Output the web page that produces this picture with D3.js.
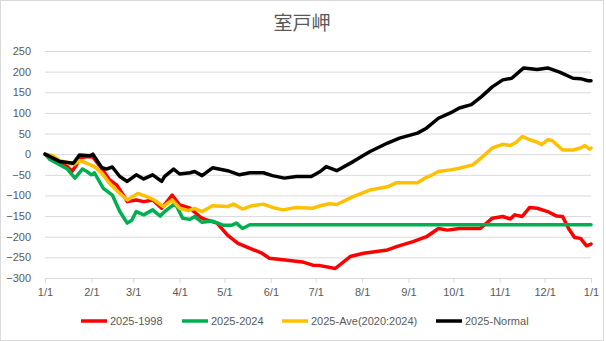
<!DOCTYPE html>
<html>
<head>
<meta charset="utf-8">
<script src="https://cdn.jsdelivr.net/npm/d3@7"></script>
<style>
  body { margin: 0; background: #fff; }
  text { font-family: "Liberation Sans", "Noto Sans", sans-serif; fill: #595959; }
</style>
</head>
<body>
<svg id="chart"></svg>
<script>
// day-of-year offsets paired with values
const red1998 = [[0,0],[5,-12],[10,-22],[15,-30],[18,-42],[21,-26],[23,-10],[28,-6],[32,-7],[37,-30],[43,-62],[48,-75],[53,-103],[55,-115],[61,-111],[66,-115],[72,-111],[78,-131],[85,-99],[90,-123],[97,-131],[104,-153],[107,-158],[115,-167],[122,-196],[129,-216],[137,-228],[145,-240],[150,-252],[162,-257],[172,-261],[179,-269],[184,-270],[194,-277],[204,-248],[213,-240],[229,-232],[235,-224],[246,-212],[255,-200],[263,-180],[269,-184],[277,-180],[291,-180],[299,-155],[306,-151],[311,-157],[314,-147],[319,-151],[324,-129],[329,-131],[336,-139],[342,-150],[346,-151],[350,-180],[354,-202],[358,-204],[362,-222],[365,-218]];
const green2024 = [[0,0],[3,-12],[10,-26],[15,-36],[20,-58],[25,-36],[28,-42],[31,-50],[33,-45],[39,-83],[45,-99],[50,-139],[55,-167],[58,-160],[61,-139],[66,-147],[72,-135],[77,-150],[80,-139],[87,-119],[92,-155],[97,-158],[100,-151],[105,-165],[112,-162],[119,-172],[125,-172],[128,-167],[132,-180],[137,-171],[365,-171]];
const yellowAve = [[0,0],[5,-3],[10,-16],[15,-20],[19,-26],[23,-16],[28,-22],[33,-30],[38,-46],[43,-70],[50,-95],[55,-111],[62,-95],[68,-103],[73,-111],[79,-127],[85,-111],[90,-131],[96,-137],[100,-131],[105,-139],[112,-125],[122,-127],[126,-121],[132,-133],[138,-125],[146,-121],[152,-129],[159,-135],[168,-129],[179,-131],[184,-125],[190,-120],[195,-122],[206,-103],[217,-87],[229,-79],[235,-69],[249,-69],[255,-56],[259,-50],[263,-42],[271,-38],[277,-34],[286,-26],[291,-11],[295,2],[299,15],[306,24],[311,21],[315,29],[319,43],[324,35],[329,29],[332,23],[336,35],[339,33],[346,10],[353,10],[358,15],[361,21],[364,12],[365,15]];
const blackNormal = [[0,0],[5,-9],[10,-18],[19,-22],[23,-2],[30,-4],[32,0],[38,-33],[41,-36],[45,-31],[50,-54],[55,-66],[61,-50],[66,-60],[72,-50],[78,-66],[80,-54],[86,-36],[90,-48],[97,-45],[100,-42],[105,-52],[112,-33],[122,-40],[130,-50],[137,-45],[146,-45],[152,-52],[160,-58],[168,-54],[178,-54],[184,-42],[188,-30],[195,-40],[206,-18],[217,6],[229,27],[237,39],[249,51],[255,63],[263,87],[271,100],[277,112],[285,120],[292,140],[299,163],[306,180],[312,184],[320,209],[329,205],[336,209],[344,199],[353,184],[358,183],[363,178],[365,178]];

const seriesNames = ["2025-1998", "2025-2024", "2025-Ave(2020:2024)", "2025-Normal"];
const seriesColors = ["#ff0000", "#00b050", "#ffc000", "#000000"];
const seriesData = [red1998, green2024, yellowAve, blackNormal];
const yTicks = [250, 200, 150, 100, 50, 0, -50, -100, -150, -200, -250, -300];
const title = "室戸岬";

const W = 606, H = 341;
const margin = { top: 51, right: 15, bottom: 63, left: 45 };
const plotW = W - margin.left - margin.right;
const plotH = H - margin.top - margin.bottom;

const svg = d3.select("#chart").attr("width", W).attr("height", H);

// chart border
svg.append("rect")
  .attr("x", 0.5).attr("y", 0.5)
  .attr("width", 603).attr("height", 340)
  .attr("fill", "#fff").attr("stroke", "#d9d9d9");

svg.append("text")
  .attr("x", 302).attr("y", 30)
  .attr("text-anchor", "middle")
  .style("font-family", "'Noto Sans CJK JP', sans-serif")
  .style("font-size", "19px")
  .text(title);

const g = svg.append("g").attr("transform", "translate(" + margin.left + "," + margin.top + ")");

const start = new Date(2025, 0, 1);
const end = new Date(2026, 0, 1);
const x = d3.scaleTime().domain([start, end]).range([0, plotW]);
const y = d3.scaleLinear().domain([-300, 250]).range([plotH, 0]);
const toDate = d => d3.timeDay.offset(start, d);

// GRIDLINES
g.append("g")
  .call(d3.axisLeft(y).tickValues(yTicks).tickSize(-plotW).tickFormat(""))
  .call(s => s.select(".domain").remove())
  .selectAll("line").attr("stroke", "#d9d9d9");

// Y LABELS
g.append("g")
  .call(d3.axisLeft(y).tickValues(yTicks).tickSize(0).tickPadding(14))
  .call(s => s.select(".domain").remove())
  .selectAll("text")
  .style("font-size", "11px")
  .style("fill", "#595959")
  .style("font-family", "'Liberation Sans', sans-serif");

// X AXIS
const xTicks = d3.timeMonth.range(start, d3.timeDay.offset(end, 1));
const xAxis = g.append("g")
  .attr("transform", "translate(0," + plotH + ")")
  .call(d3.axisBottom(x).tickValues(xTicks).tickSize(5).tickPadding(5)
    .tickFormat(d => (d.getMonth() + 1) + "/" + d.getDate()));
xAxis.select(".domain").attr("stroke", "#d9d9d9");
xAxis.selectAll("line").attr("stroke", "#d9d9d9");
xAxis.selectAll("text")
  .style("font-size", "11px")
  .style("fill", "#595959")
  .style("font-family", "'Liberation Sans', sans-serif");

// LINES
const line = d3.line()
  .x(d => x(toDate(d[0])))
  .y(d => y(d[1]));

seriesData.forEach((data, i) => {
  g.append("path")
    .datum(data)
    .attr("fill", "none")
    .attr("stroke", seriesColors[i])
    .attr("stroke-width", 3.5)
    .attr("stroke-linejoin", "round")
    .attr("stroke-linecap", "round")
    .attr("d", line);
});

// LEGEND
const legendX = [81, 182, 282, 436];
const legend = svg.append("g").attr("transform", "translate(0,321)");
seriesNames.forEach((name, i) => {
  legend.append("line")
    .attr("x1", legendX[i]).attr("x2", legendX[i] + 26)
    .attr("y1", 0).attr("y2", 0)
    .attr("stroke", seriesColors[i])
    .attr("stroke-width", 3.5);
  legend.append("text")
    .attr("x", legendX[i] + 29).attr("y", 4)
    .style("font-size", "11px")
    .text(name);
});
</script>
</body>
</html>
